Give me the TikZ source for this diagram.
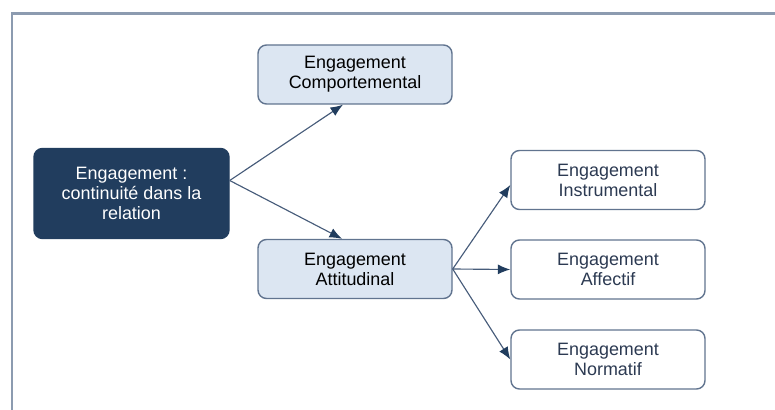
\documentclass[tikz,border=0pt]{standalone}
\usepackage{fontspec}
\setmainfont{Liberation Sans}
\usepackage{tikz}
\usetikzlibrary{positioning, arrows.meta}

\definecolor{navy}{HTML}{213D5E}
\definecolor{paleblue}{HTML}{DCE6F2}
\definecolor{edgegray}{HTML}{61748F}
\definecolor{linkblue}{HTML}{475C7A}
\definecolor{framegray}{HTML}{8C9BB0}
\definecolor{textnavy}{HTML}{2C3A52}

\begin{document}
\begin{tikzpicture}[
    box/.style={rectangle, rounded corners=0.17cm, line width=0.8pt, align=center,
        font=\fontsize{10.2}{11.4}\selectfont, minimum width=3.88cm, minimum height=1.18cm},
    rootbox/.style={box, fill=navy, draw=navy, text=white, minimum width=3.9cm, minimum height=1.8cm},
    lightbox/.style={box, fill=paleblue, draw=edgegray, text=black},
    plainbox/.style={box, fill=white, draw=edgegray, text=textnavy},
    link/.style={draw=linkblue, line width=0.65pt, -{Latex[length=2.5mm, width=2mm, color=navy]}}
]

\useasboundingbox (0,0) rectangle (15.5,-8.2);

% frame
\draw[framegray, line width=1.4pt] (15.5,-0.27) -| (0.24,-8.2);

% Root
\node[rootbox] (root) at (2.63,-3.87) {Engagement :\\continuité dans la\\relation};

% first level
\node[lightbox] (comp) at (7.1,-1.49) {Engagement\\Comportemental};
\node[lightbox] (att) at (7.1,-5.38) {Engagement\\Attitudinal};

% second level
\node[plainbox] (instr) at (12.16,-3.6) {Engagement\\Instrumental};
\node[plainbox] (aff) at (12.16,-5.39) {Engagement\\Affectif};
\node[plainbox] (norm) at (12.16,-7.19) {Engagement\\Normatif};

% links
\coordinate (rootout) at ([yshift=0.26cm]root.east);
\coordinate (compin) at ([xshift=-0.24cm]comp.south);
\coordinate (attin) at ([xshift=-0.26cm]att.north);

\draw[link] (rootout) -- (compin);
\draw[link] (rootout) -- (attin);

\draw[link] (att.east) -- ([yshift=-0.1cm]instr.west);
\draw[link] (att.east) -- (aff.west);
\draw[link] (att.east) -- (norm.west);

\end{tikzpicture}
\end{document}
